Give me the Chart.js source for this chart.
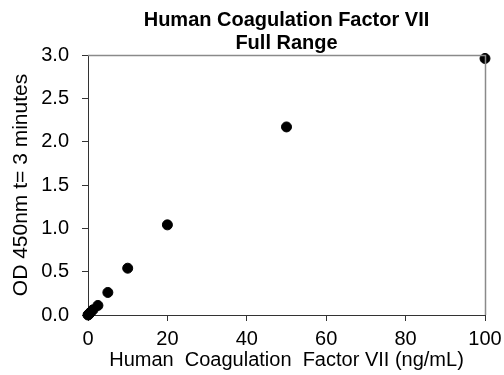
<!DOCTYPE html>
<html>
<head>
<meta charset="utf-8">
<script src="https://cdn.jsdelivr.net/npm/chart.js@4"></script>
<style>
  html, body { margin: 0; padding: 0; background: #fff; }
  #wrap { width: 504px; height: 375px; }
</style>
</head>
<body>
<div id="wrap"><canvas id="chart" width="504" height="375"></canvas></div>
<script>
var concentrations = [0, 0.156, 0.3125, 0.625, 1.25, 2.5, 5, 10, 20, 50, 100]
var odValues = [0, 0.005, 0.015, 0.03, 0.06, 0.11, 0.26, 0.54, 1.04, 2.17, 2.96]
var titleLines = ['Human Coagulation Factor VII', 'Full Range']
var xTitle = 'Human  Coagulation  Factor VII (ng/mL)'
var yTitle = 'OD 450nm t= 3 minutes'

var points = []
for (var i = 0; i < concentrations.length; i++) {
    points.push({ x: concentrations[i], y: odValues[i] })
}

// plot box on top and right
var boxPlugin = {
    id: 'box',
    afterDatasetsDraw: function (chart) {
        var a = chart.chartArea
        var ctx = chart.ctx
        ctx.save()
        ctx.strokeStyle = '#8a8a8a'
        ctx.lineWidth = 1.5
        ctx.beginPath()
        ctx.moveTo(a.left, a.top + 0.5)
        ctx.lineTo(a.right + 0.5, a.top + 0.5)
        ctx.lineTo(a.right + 0.5, a.bottom)
        ctx.stroke()
        ctx.restore()
    }
}

var font = "'Liberation Sans', Arial, sans-serif"
var axisColor = '#333'

var ctx = document.getElementById('chart').getContext('2d')
var myChart = new Chart(ctx, {
    type: 'scatter',
    data: {
        datasets: [{
            data: points,
            backgroundColor: '#000',
            borderColor: '#000',
            pointRadius: 5,
            pointHoverRadius: 5,
            clip: false
        }]
    },
    options: {
        responsive: false,
        animation: false,
        layout: { padding: { left: 4, right: 19, top: 2, bottom: 5 } },
        plugins: {
            legend: { display: false },
            tooltip: { enabled: false },
            title: {
                display: true,
                fullSize: false,
                text: titleLines,
                color: '#000',
                font: { family: font, size: 20, weight: 'bold', lineHeight: 1.15 },
                padding: { top: 6.5, bottom: 0.5 }
            }
        },
        scales: {
            x: {
                type: 'linear',
                min: 0,
                max: 100,
                afterFit: function (scale) {
                    scale.height = 55
                    scale.paddingLeft = 0
                    scale.paddingRight = 0
                },
                ticks: { stepSize: 20, color: '#000', font: { family: font, size: 20, lineHeight: 1 }, padding: 8, maxRotation: 0 },
                grid: { drawOnChartArea: false, drawTicks: true, tickLength: 6, color: axisColor },
                border: { color: axisColor },
                title: { display: true, text: xTitle, color: '#000', font: { family: font, size: 20, lineHeight: 1 }, padding: { top: 1, bottom: 0 } }
            },
            y: {
                type: 'linear',
                min: 0,
                max: 3,
                afterFit: function (scale) {
                    scale.width = 84
                    scale.paddingTop = 0
                    scale.paddingBottom = 0
                },
                ticks: { stepSize: 0.5, color: '#000', font: { family: font, size: 20 }, padding: 13,
                    callback: function (v) { return v.toFixed(1) } },
                grid: { drawOnChartArea: false, drawTicks: true, tickLength: 6, color: axisColor },
                border: { color: axisColor },
                title: { display: true, text: yTitle, color: '#000', font: { family: font, size: 21 }, padding: { top: 5, bottom: 7 } }
            }
        }
    },
    plugins: [boxPlugin]
})
</script>
</body>
</html>
